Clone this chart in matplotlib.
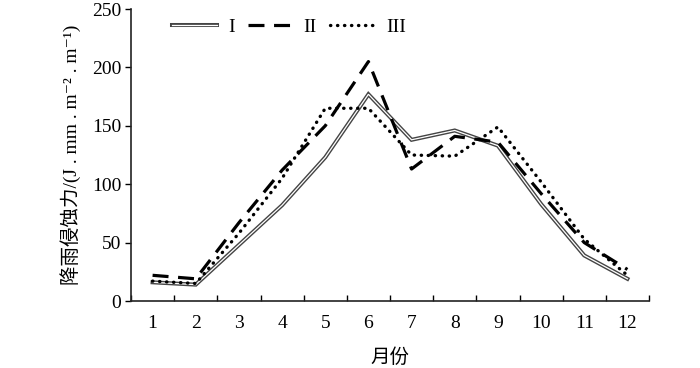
import matplotlib
matplotlib.use("Agg")
import matplotlib.pyplot as plt
import matplotlib.patheffects as pe
import numpy as np

months = [str(i) for i in range(1, 13)]
series_I = [16, 14, 48, 82, 123, 177, 138, 146, 133, 83, 39, 19]
series_II = [22, 19, 67, 112, 150, 205, 113, 141, 136, 92, 50, 27]
series_III = [17, 15, 58, 105, 165, 165, 125, 124, 149, 102, 53, 22]
labels = ["I", "II", "III"]

serif = ["Liberation Serif", "Noto Sans CJK SC", "DejaVu Sans"]
plt.rcParams["font.family"] = serif
plt.rcParams["font.size"] = 14

fig = plt.figure(figsize=(7.0, 3.68), dpi=100)
ax = fig.add_axes([131/700, 1-301/368, 518/700, 292/368])

x = np.arange(len(months)) + 0.5

l1, = ax.plot(x, series_I, color="white", lw=0.9, solid_joinstyle="miter",
              path_effects=[pe.Stroke(linewidth=2.9, foreground="#444444"), pe.Normal()],
              label=labels[0], zorder=3)
l2, = ax.plot(x, series_II, color="black", lw=2.3, dashes=(5.0, 3.0),
              label=labels[1], zorder=4)
l3, = ax.plot(x, series_III, color="black", lw=2.4, linestyle=(0, (0.1, 2.0)),
              dash_capstyle="round", label=labels[2], zorder=5)

ax.set_xlim(0, 12)
ax.set_ylim(0, 250)
ax.set_yticks([0, 50, 100, 150, 200, 250])
ax.set_xticks(np.arange(0, 13))
ax.set_xticklabels([])
ax.set_xticks(x, minor=True)
ax.set_xticklabels(months, minor=True)
ax.tick_params(axis="x", which="major", direction="in", length=4, width=1)
ax.tick_params(axis="x", which="minor", length=0, pad=10)
ax.tick_params(axis="y", direction="out", length=4, width=1, pad=3)

for s in ["top", "right"]:
    ax.spines[s].set_visible(False)
for s in ["left", "bottom"]:
    ax.spines[s].set_linewidth(1.2)
    ax.spines[s].set_color("#222222")

ax.set_xlabel("月份", fontsize=14, labelpad=12)
ax.set_ylabel("降雨侵蚀力/(J . mm . m⁻² . m⁻¹)", fontsize=14, labelpad=8)

leg = ax.legend(handles=[l1, l2, l3], loc="upper left", bbox_to_anchor=(0.065, 0.995),
                ncol=3, frameon=False, handlelength=2.3, handletextpad=0.55,
                columnspacing=0.7, borderaxespad=0, fontsize=14)

fig.savefig("out.png", dpi=100)
